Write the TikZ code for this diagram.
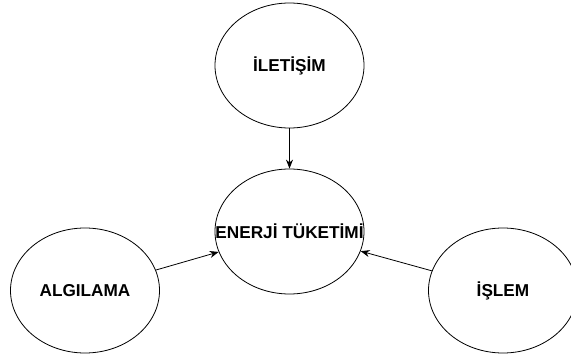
\documentclass[tikz,border=0pt]{standalone}
\usepackage{fontspec}
\setmainfont{Liberation Sans}
\usetikzlibrary{shapes.geometric}
\usetikzlibrary{arrows.meta}

\tikzset{
  konu/.style={ellipse, draw, line width=0.8pt, minimum width=149pt, minimum height=125pt, inner sep=0pt, font=\fontsize{17.2}{20}\selectfont\bfseries},
  ok/.style={line width=0.8pt, -{Stealth[length=9pt,width=7pt]}}
}

\begin{document}
\begin{tikzpicture}[x=1pt,y=1pt]
\useasboundingbox (0,0) rectangle (571,356);
\node[konu] (iletisim) at (289.5,290.5) {İLETİŞİM};
\node[konu] (enerji) at (289.5,124.5) {\makebox[0pt]{ENERJİ TÜKETİMİ}};
\node[konu] (algilama) at (85,65.5) {ALGILAMA};
\node[konu] (islem) at (503,65.5) {İŞLEM};
\draw[ok] (iletisim) -- (enerji);
\draw[ok] (algilama) -- (enerji);
\draw[ok] (islem) -- (enerji);
\end{tikzpicture}
\end{document}
